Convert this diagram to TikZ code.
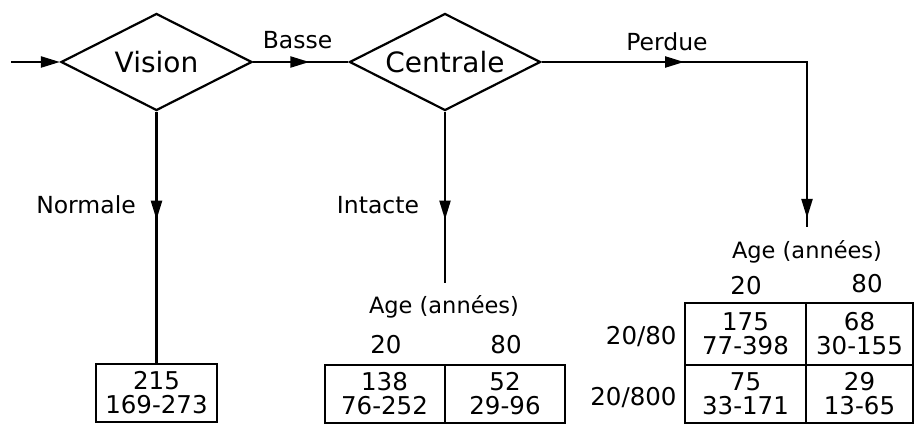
\documentclass[tikz,border=0pt]{standalone}
\usepackage{fontspec}
\setmainfont{DejaVu Sans}
\usetikzlibrary{shapes.geometric,arrows.meta,decorations.markings}

\tikzset{
  decision/.style={diamond,draw,line width=2.2pt,aspect=2,inner sep=0pt,
    minimum width=191pt,minimum height=97pt,font=\fontsize{28}{30}\selectfont},
  cell/.style={draw,line width=2pt,inner sep=0pt,align=center,
    font=\fontsize{24.5}{24}\selectfont},
  lbl/.style={font=\fontsize{23.5}{25}\selectfont},
  num/.style={font=\fontsize{24.5}{25}\selectfont},
  agelbl/.style={font=\fontsize{22.5}{25}\selectfont},
  tipat/.style={postaction={decorate,decoration={markings,
    mark=at position #1 with {\arrow{Triangle[length=19pt,width=11pt]}}}}}
}

\begin{document}
\begin{tikzpicture}[x=1pt,y=-1pt,line width=2.2pt]
  \useasboundingbox (0,0) rectangle (915,425);
  \draw
    (11,62) coordinate (entree)
    (156.5,62) node[decision] (vision){Vision}
    (445,62) node[decision] (centrale){Centrale}
    (807,62) coordinate (coin)
    (807,227) coordinate (perdue)
    (445,283) coordinate (intacte)
    (156.5,393) node[cell,minimum width=121pt,minimum height=58pt] (normal){215\\169-273}
    (384.5,394) node[cell,minimum width=120pt,minimum height=58pt] (i20){138\\76-252}
    (505,394) node[cell,minimum width=120pt,minimum height=58pt] (i80){52\\29-96}
    (745.5,334) node[cell,minimum width=121pt,minimum height=62pt] (p11){175\\77-398}
    (859.5,334) node[cell,minimum width=107pt,minimum height=62pt] (p12){68\\30-155}
    (745.5,394) node[cell,minimum width=121pt,minimum height=58pt] (p21){75\\33-171}
    (859.5,394) node[cell,minimum width=107pt,minimum height=58pt] (p22){29\\13-65};
  % labels
  \node[lbl] (basse) at (297.5,40) {Basse};
  \node[lbl] (perdu) at (667,42) {Perdue};
  \node[lbl] (normale) at (86,205) {Normale};
  \node[lbl] (intact) at (378,205) {Intacte};
  \node[agelbl] (agei) at (444,307) {Age (années)};
  \node[num] (i20col) at (386,345) {20};
  \node[num] (i80col) at (506,345) {80};
  \node[agelbl] (agep) at (807,252) {Age (années)};
  \node[num] (p20col) at (746,286) {20};
  \node[num] (p80col) at (867,284) {80};
  \node[num,anchor=east] (p20row) at (681,337) {20/80};
  \node[num,anchor=east] (p800row) at (681,398) {20/800};
  \begin{scope}[-]
    \draw[-{Triangle[length=19pt,width=11pt]}] (entree) to (vision.west);
    \draw[tipat=0.59] (vision.east) to (centrale.west);
    \draw[tipat=0.331,tipat=0.979] (centrale.east) -- (coin) -- (perdue);
    \draw[tipat=0.43] (vision.south) to (normal.north);
    \draw[tipat=0.63] (centrale.south) to (intacte);
  \end{scope}
\end{tikzpicture}
\end{document}
